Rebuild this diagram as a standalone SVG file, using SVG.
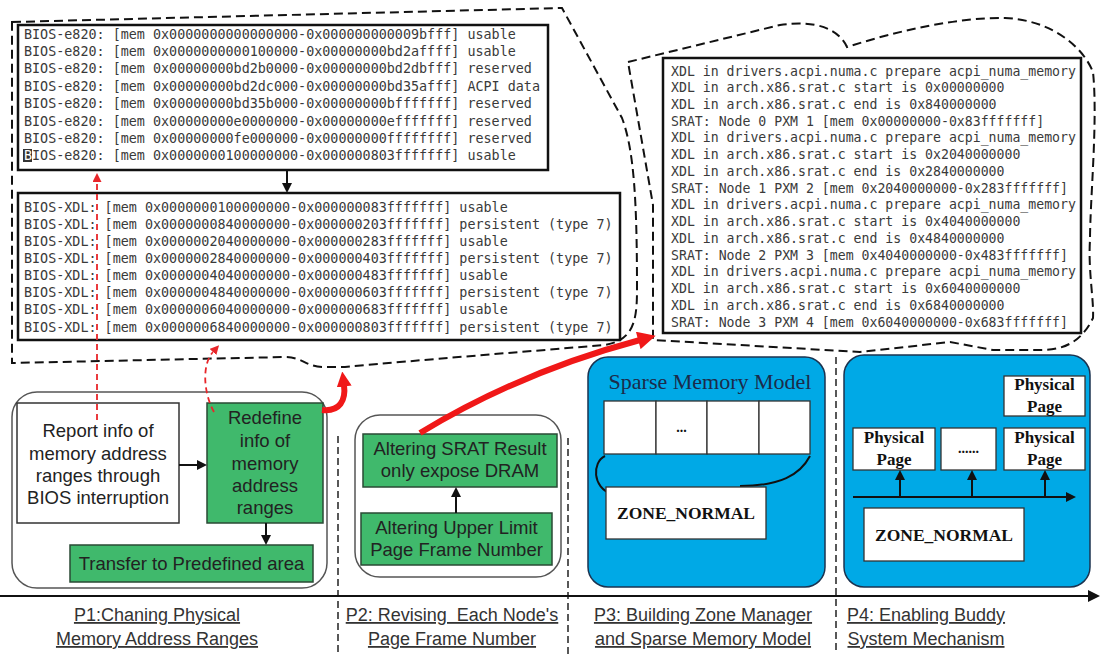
<svg xmlns="http://www.w3.org/2000/svg" width="1100" height="654" viewBox="0 0 1100 654">
<style>
.mono{font-family:"DejaVu Sans Mono","Liberation Mono",monospace;fill:#3a3a3a}
.m1{font-size:13.4px}
.m2{font-size:13.2px}
.sans{font-family:"Liberation Sans",Arial,sans-serif;fill:#222;font-size:18.5px;text-anchor:middle}
.lbl{font-family:"Liberation Sans",Arial,sans-serif;fill:#333;font-size:18px;text-anchor:middle;text-decoration:underline}
.serif{font-family:"Liberation Serif","Times New Roman",serif}
.bold{font-weight:bold;fill:#111;text-anchor:middle}
.logbox{fill:#fff;stroke:#111;stroke-width:2.5}
.cloud{fill:none;stroke:#111;stroke-width:2;stroke-dasharray:9 5}
.sep{fill:none;stroke:#222;stroke-width:1.5;stroke-dasharray:7 4}
.green{fill:#40b96c;stroke:#2a4a35;stroke-width:1.5}
.white{fill:#fff;stroke:#333;stroke-width:1.5}
.blue{fill:#00a9e6;stroke:#1b3350;stroke-width:1.5}
.phase{fill:#fff;stroke:#555;stroke-width:1.5}
.cell{fill:#fff;stroke:#333;stroke-width:1.3}
.blk{fill:none;stroke:#111;stroke-width:2}
.rdash{fill:none;stroke:#e8262a;stroke-width:1.8;stroke-dasharray:6 4}
.rthick{fill:none;stroke:#f01818;stroke-width:6;stroke-linecap:butt}
</style>
<defs>
<marker id="ahb" viewBox="0 0 10 10" refX="0" refY="5" markerWidth="10" markerHeight="10" markerUnits="userSpaceOnUse" orient="auto"><path d="M0,0 L10,5 L0,10 Z" fill="#111"/></marker>
<marker id="ahax" viewBox="0 0 12 12" refX="0" refY="6" markerWidth="12" markerHeight="12" markerUnits="userSpaceOnUse" orient="auto"><path d="M0,0 L12,6 L0,12 Z" fill="#111"/></marker>
<marker id="ahr" viewBox="0 0 10 10" refX="0" refY="5" markerWidth="9" markerHeight="9" markerUnits="userSpaceOnUse" orient="auto"><path d="M0,0 L10,5 L0,10 Z" fill="#e8262a"/></marker>
<marker id="ahrb" viewBox="0 0 10 10" refX="1" refY="5" markerWidth="20" markerHeight="18" markerUnits="userSpaceOnUse" orient="auto"><path d="M0,0 L10,5 L0,10 Z" fill="#f01818"/></marker>
<marker id="ahrm" viewBox="0 0 10 10" refX="1" refY="5" markerWidth="15" markerHeight="15" markerUnits="userSpaceOnUse" orient="auto"><path d="M0,0 L10,5 L0,10 Z" fill="#f01818"/></marker>
</defs>
<rect width="1100" height="654" fill="#fff"/>

<g id="cloud-left"><path class="cloud" d="M12,22 L562,8 L622,118 C634,150 637,200 637,290 C637,322 633,340 605,345 C520,352 420,360 345,367 L322,367 C305,366 302,357 285,357 L12,363 Z"/></g>
<g id="cloud-right"><path class="cloud" d="M628,62 L780,25 C815,20 838,28 847,47 C900,30 960,17 1005,18 C1050,20 1082,45 1093,72 C1098,120 1090,200 1090,240 C1088,270 1094,300 1093,318 C1080,345 1060,350 1040,350 L993,350 L950,342 L860,352 L653,340 L653,205 Z"/></g>

<g id="log-e820">
<rect class="logbox" x="18" y="25" width="530" height="145"/>
<rect x="23" y="149" width="9" height="13" fill="#333"/>
<g class="mono m1">
<text x="24" y="38.5">BIOS-e820: [mem 0x0000000000000000-0x000000000009bfff] usable</text>
<text x="24" y="55.9">BIOS-e820: [mem 0x0000000000100000-0x00000000bd2affff] usable</text>
<text x="24" y="73.3">BIOS-e820: [mem 0x00000000bd2b0000-0x00000000bd2dbfff] reserved</text>
<text x="24" y="90.7">BIOS-e820: [mem 0x00000000bd2dc000-0x00000000bd35afff] ACPI data</text>
<text x="24" y="108.1">BIOS-e820: [mem 0x00000000bd35b000-0x00000000bfffffff] reserved</text>
<text x="24" y="125.5">BIOS-e820: [mem 0x00000000e0000000-0x00000000efffffff] reserved</text>
<text x="24" y="142.9">BIOS-e820: [mem 0x00000000fe000000-0x00000000ffffffff] reserved</text>
<text x="24" y="160.3"><tspan fill="#fff">B</tspan>IOS-e820: [mem 0x0000000100000000-0x000000803fffffff] usable</text>
</g>
</g>

<g id="log-xdl">
<rect class="logbox" x="18" y="193" width="602" height="147" stroke-width="2"/>
<g class="mono m1">
<text x="24" y="211.5">BIOS-XDL: [mem 0x0000000100000000-0x000000083fffffff] usable</text>
<text x="24" y="228.6">BIOS-XDL: [mem 0x0000000840000000-0x000000203fffffff] persistent (type 7)</text>
<text x="24" y="245.8">BIOS-XDL: [mem 0x0000002040000000-0x000000283fffffff] usable</text>
<text x="24" y="262.9">BIOS-XDL: [mem 0x0000002840000000-0x000000403fffffff] persistent (type 7)</text>
<text x="24" y="280.1">BIOS-XDL: [mem 0x0000004040000000-0x000000483fffffff] usable</text>
<text x="24" y="297.2">BIOS-XDL: [mem 0x0000004840000000-0x000000603fffffff] persistent (type 7)</text>
<text x="24" y="314.3">BIOS-XDL: [mem 0x0000006040000000-0x000000683fffffff] usable</text>
<text x="24" y="331.5">BIOS-XDL: [mem 0x0000006840000000-0x000000803fffffff] persistent (type 7)</text>
</g>
</g>

<g id="log-srat">
<rect class="logbox" x="663" y="58" width="418" height="275"/>
<g class="mono m2">
<text x="671" y="75.5">XDL in drivers.acpi.numa.c prepare acpi_numa_memory</text>
<text x="671" y="92.2">XDL in arch.x86.srat.c start is 0x00000000</text>
<text x="671" y="109">XDL in arch.x86.srat.c end is 0x840000000</text>
<text x="671" y="125.7">SRAT: Node 0 PXM 1 [mem 0x00000000-0x83fffffff]</text>
<text x="671" y="142.4">XDL in drivers.acpi.numa.c prepare acpi_numa_memory</text>
<text x="671" y="159.2">XDL in arch.x86.srat.c start is 0x2040000000</text>
<text x="671" y="175.9">XDL in arch.x86.srat.c end is 0x2840000000</text>
<text x="671" y="192.6">SRAT: Node 1 PXM 2 [mem 0x2040000000-0x283fffffff]</text>
<text x="671" y="209.3">XDL in drivers.acpi.numa.c prepare acpi_numa_memory</text>
<text x="671" y="226.1">XDL in arch.x86.srat.c start is 0x4040000000</text>
<text x="671" y="242.8">XDL in arch.x86.srat.c end is 0x4840000000</text>
<text x="671" y="259.5">SRAT: Node 2 PXM 3 [mem 0x4040000000-0x483fffffff]</text>
<text x="671" y="276.3">XDL in drivers.acpi.numa.c prepare acpi_numa_memory</text>
<text x="671" y="293">XDL in arch.x86.srat.c start is 0x6040000000</text>
<text x="671" y="309.7">XDL in arch.x86.srat.c end is 0x6840000000</text>
<text x="671" y="326.5">SRAT: Node 3 PXM 4 [mem 0x6040000000-0x683fffffff]</text>
</g>
</g>

<g id="separators">
<path class="sep" d="M338,436 L338,654"/>
<path class="sep" d="M568,438 L568,654"/>
<path class="sep" d="M836,357 L836,654"/>
</g>

<g id="p1">
<rect class="phase" x="12" y="392" width="315" height="196" rx="25"/>
</g>
<g id="report">
<rect class="white" x="17" y="403" width="162" height="120"/>
<text class="sans" x="98" y="436.5">Report info of</text>
<text class="sans" x="98" y="459.5">memory address</text>
<text class="sans" x="98" y="481.5">ranges through</text>
<text class="sans" x="98" y="503.5">BIOS interruption</text>
</g>
<g id="redefine">
<rect class="green" x="207" y="403" width="116" height="120"/>
<text class="sans" x="265" y="423.5">Redefine</text>
<text class="sans" x="265" y="446.5">info of</text>
<text class="sans" x="265" y="469.5">memory</text>
<text class="sans" x="265" y="491.5">address</text>
<text class="sans" x="265" y="513.5">ranges</text>
</g>
<g id="transfer">
<rect class="green" x="70" y="545" width="243" height="37"/>
<text class="sans" x="191.5" y="569.5">Transfer to Predefined area</text>
</g>

<g id="p2">
<rect class="phase" x="355" y="415" width="206" height="162" rx="25"/>
</g>
<g id="srat-alter">
<rect class="green" x="363" y="434" width="194" height="53"/>
<text class="sans" x="460" y="454.5">Altering SRAT Result</text>
<text class="sans" x="460" y="476.5">only expose DRAM</text>
</g>
<g id="upper-limit">
<rect class="green" x="361" y="513" width="191" height="52"/>
<text class="sans" x="456.5" y="533.5">Altering Upper Limit</text>
<text class="sans" x="456.5" y="555.5">Page Frame Number</text>
</g>

<g id="p3">
<rect class="blue" x="588" y="357" width="237" height="230" rx="20"/>
<text class="serif" x="710" y="388.5" font-size="22" fill="#1c2b4a" text-anchor="middle">Sparse Memory Model</text>
<rect class="cell" x="604" y="401" width="52" height="53"/>
<rect class="cell" x="656" y="401" width="51" height="53"/>
<rect class="cell" x="707" y="401" width="52" height="53"/>
<rect class="cell" x="759" y="401" width="51" height="53"/>
<text class="serif bold" x="681.5" y="432" font-size="14">...</text>
<path class="blk" stroke-width="1.5" d="M605,456 C592,462 592,488 612,494"/>
<path class="blk" stroke-width="1.5" d="M810,456 C800,475 780,486 740,486"/>
<rect class="cell" x="606" y="487" width="160" height="52"/>
<text class="serif bold" x="686" y="519" font-size="17.5">ZONE_NORMAL</text>
</g>

<g id="p4">
<rect class="blue" x="844" y="355" width="246" height="232" rx="20"/>
<rect class="cell" x="1004" y="376" width="81" height="40"/>
<text class="serif bold" x="1044.5" y="390" font-size="17">Physical</text>
<text class="serif bold" x="1044.5" y="412" font-size="17">Page</text>
<rect class="cell" x="853" y="428" width="82" height="42"/>
<text class="serif bold" x="894" y="443" font-size="17">Physical</text>
<text class="serif bold" x="894" y="465" font-size="17">Page</text>
<rect class="cell" x="941" y="428" width="55" height="42"/>
<text class="serif bold" x="968.5" y="453" font-size="14">......</text>
<rect class="cell" x="1004" y="428" width="81" height="42"/>
<text class="serif bold" x="1044.5" y="443" font-size="17">Physical</text>
<text class="serif bold" x="1044.5" y="465" font-size="17">Page</text>
<rect class="cell" x="864" y="508" width="160" height="53"/>
<text class="serif bold" x="944" y="541" font-size="17.5">ZONE_NORMAL</text>
</g>

<g id="connectors">
<path class="blk" d="M287,171 L287,183" marker-end="url(#ahb)"/>
<path class="blk" d="M179,465 L197,465" marker-end="url(#ahb)"/>
<path class="blk" d="M266,523 L266,535" marker-end="url(#ahb)"/>
<path class="blk" d="M456,513 L456,497" marker-end="url(#ahb)"/>
<path class="blk" d="M853,497 L1066,497" marker-end="url(#ahb)"/>
<path class="blk" d="M900,497 L900,480" marker-end="url(#ahb)"/>
<path class="blk" d="M972,497 L972,480" marker-end="url(#ahb)"/>
<path class="blk" d="M1045,497 L1045,480" marker-end="url(#ahb)"/>
<path class="blk" d="M0,596 L1088,596" marker-end="url(#ahax)"/>
<path class="rdash" d="M97,420 L97,182" marker-end="url(#ahr)"/>
<path class="rdash" d="M214,412 C203,392 202,364 213,352" marker-end="url(#ahr)"/>
<path class="rthick" d="M322,410 C340,412 346,400 344,385" marker-end="url(#ahrm)"/>
<path class="rthick" d="M420,433 Q520,372 640,340" marker-end="url(#ahrb)"/>
</g>

<g id="labels">
<text class="lbl" x="157" y="621">P1:Chaning Physical</text>
<text class="lbl" x="157" y="645">Memory Address Ranges</text>
<text class="lbl" x="452" y="621" xml:space="preserve">P2: Revising  Each Node's</text>
<text class="lbl" x="452" y="645">Page Frame Number</text>
<text class="lbl" x="703" y="621">P3: Building Zone Manager</text>
<text class="lbl" x="703" y="645">and Sparse Memory Model</text>
<text class="lbl" x="926" y="621">P4: Enabling Buddy</text>
<text class="lbl" x="926" y="645">System Mechanism</text>
</g>
</svg>
